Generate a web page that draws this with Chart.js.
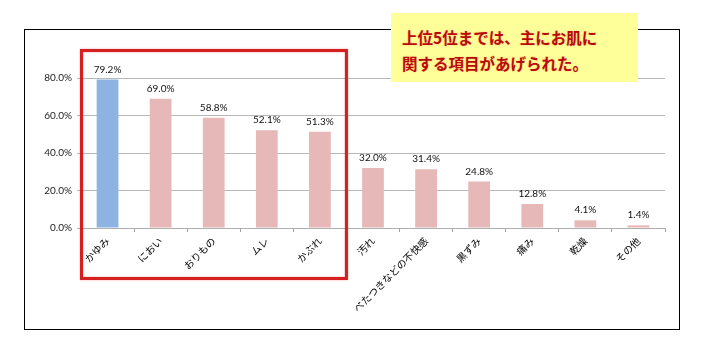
<!DOCTYPE html>
<html>
<head>
<meta charset="utf-8">
<script src="https://cdn.jsdelivr.net/npm/chart.js@4.4.0/dist/chart.umd.min.js"></script>
<style>
html,body{margin:0;padding:0;background:#fff;}
#wrap{position:relative;width:701px;height:352px;overflow:hidden;}
#c{position:absolute;left:0;top:0;}
#note{position:absolute;left:391px;top:13px;width:247px;height:69px;background:#ffff99;
  font-family:"Noto Sans CJK JP","Noto Sans",sans-serif;font-size:15.5px;font-weight:bold;color:#b80a0a;
  line-height:26px;box-sizing:border-box;padding:11px 0 0 11px;white-space:nowrap;
  text-shadow:0 0 2px rgba(255,110,70,0.4);}
</style>
</head>
<body>
<div id="wrap">
<canvas id="c" width="701" height="352"></canvas>
<div id="note">上位5位までは、主にお肌に<br>関する項目があげられた。</div>
</div>
<script>
const categories = ["かゆみ","におい","おりもの","ムレ","かぶれ","汚れ","べたつきなどの不快感","黒ずみ","痛み","乾燥","その他"];
const values = [79.2, 69.0, 58.8, 52.1, 51.3, 32.0, 31.4, 24.8, 12.8, 4.1, 1.4];
const yTicks = [0, 20, 40, 60, 80];

const BLUE = "#8db3e2", PINK = "#e6b9b8";
const barColors = values.map((v, i) => i === 0 ? BLUE : PINK);

const frame = {
  id: "frame",
  beforeDraw(chart) {
    const ctx = chart.ctx;
    ctx.save();
    ctx.fillStyle = "#fff";
    ctx.fillRect(0, 0, chart.width, chart.height);
    ctx.strokeStyle = "#000";
    ctx.lineWidth = 1;
    ctx.strokeRect(24.5, 29.5, 655, 300);
    ctx.restore();
  },
  afterDatasetsDraw(chart) {
    const ctx = chart.ctx;
    const meta = chart.getDatasetMeta(0);
    ctx.save();
    ctx.font = "10px Lato, 'Noto Sans', sans-serif";
    ctx.fillStyle = "#111";
    ctx.textAlign = "center";
    ctx.textBaseline = "alphabetic";
    meta.data.forEach((el, i) => {
      ctx.fillText(values[i].toFixed(1) + "%", el.x, el.y - 7);
    });
    ctx.restore();
  },
  afterDraw(chart) {
    const ctx = chart.ctx;
    const x = chart.scales.x, y = chart.scales.y;
    const step = x.getPixelForValue(1) - x.getPixelForValue(0);
    const left = chart.chartArea.left + 0.5;
    const right = x.getPixelForValue(4) + step / 2;
    const top = y.getPixelForValue(80) - 27.5;
    const bottom = chart.chartArea.bottom + 50.5;
    ctx.save();
    ctx.strokeStyle = "#d42020";
    ctx.lineWidth = 3;
    ctx.shadowColor = "rgba(220,60,60,0.5)";
    ctx.shadowBlur = 2;
    ctx.strokeRect(left, top, right - left, bottom - top);
    ctx.restore();
  }
};

new Chart(document.getElementById("c"), {
  type: "bar",
  data: {
    labels: categories,
    datasets: [{
      data: values,
      backgroundColor: barColors,
      borderWidth: 0,
      barPercentage: 0.41,
      categoryPercentage: 1.0
    }]
  },
  options: {
    responsive: false,
    animation: false,
    events: [],
    layout: { padding: { left: 0, top: 78, right: 36, bottom: 24 } },
    plugins: { legend: { display: false }, tooltip: { enabled: false } },
    scales: {
      x: {
        afterFit(s) { s.height = 100; },
        grid: { drawOnChartArea: false, drawTicks: true, tickLength: 4, color: "#a0a0a0", offset: true },
        border: { display: true, color: "#b0b0b0", width: 1 },
        ticks: {
          autoSkip: false, minRotation: 45, maxRotation: 45, padding: 3,
          color: "#000",
          font: { family: "'Noto Sans CJK JP', sans-serif", size: 10 }
        }
      },
      y: {
        min: 0, max: 80,
        afterFit(s) { s.width = 81; },
        afterBuildTicks(s) { s.ticks = yTicks.map(v => ({ value: v })); },
        grid: { color: "#b8b8b8", drawTicks: true, tickLength: 4 },
        border: { display: false },
        ticks: {
          padding: 5, color: "#222",
          font: { family: "Lato, 'Noto Sans', sans-serif", size: 10 },
          callback: v => v.toFixed(1) + "%"
        }
      }
    }
  },
  plugins: [frame]
});
</script>
</body>
</html>
